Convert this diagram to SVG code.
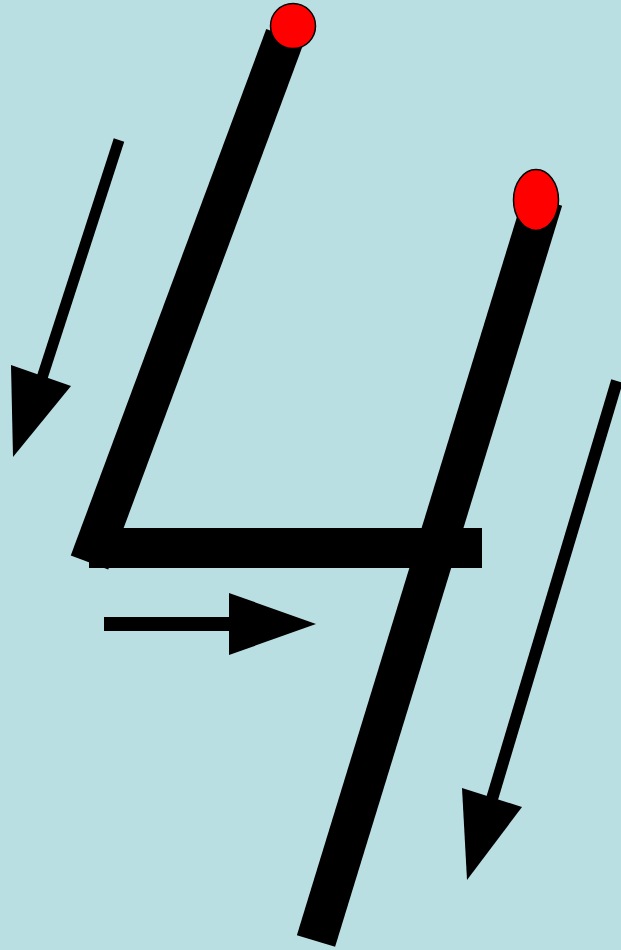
<svg xmlns="http://www.w3.org/2000/svg" width="621" height="950" viewBox="0 0 621 950">
  <style>
    .stroke{stroke:#000;stroke-width:40;stroke-linecap:butt;fill:none}
    .dot{fill:#FF0000;stroke:#000;stroke-width:1.5}
    .shaft{stroke:#000;fill:none;stroke-linecap:butt}
    .head{fill:#000}
  </style>
  <rect x="0" y="0" width="621" height="950" fill="#B9DFE3"/>
  <g id="numeral">
    <g id="stroke1"><line class="stroke" x1="89.5" y1="562.5" x2="285" y2="36"/></g>
    <g id="bar"><rect x="89" y="528" width="393" height="40" fill="#000"/></g>
    <g id="stroke2"><line class="stroke" x1="543" y1="200" x2="316" y2="941"/></g>
  </g>
  <g id="start-dots">
    <g id="dot1"><circle class="dot" cx="293" cy="26" r="22.5"/></g>
    <g id="dot2"><ellipse class="dot" cx="536" cy="200" rx="22.5" ry="30.5"/></g>
  </g>
  <g id="connectors">
    <g id="arrow1">
      <line class="shaft" stroke-width="11" x1="119" y1="140" x2="42" y2="378"/>
      <polygon class="head" points="11,365 71,386 13,457"/>
    </g>
    <g id="arrow2">
      <line class="shaft" stroke-width="14" x1="104" y1="624" x2="231" y2="624"/>
      <polygon class="head" points="229,593 229,655 316,624"/>
    </g>
    <g id="arrow3">
      <line class="shaft" stroke-width="12" x1="617" y1="381" x2="492" y2="799"/>
      <polygon class="head" points="462,788 522,807 467,880"/>
    </g>
  </g>
</svg>
